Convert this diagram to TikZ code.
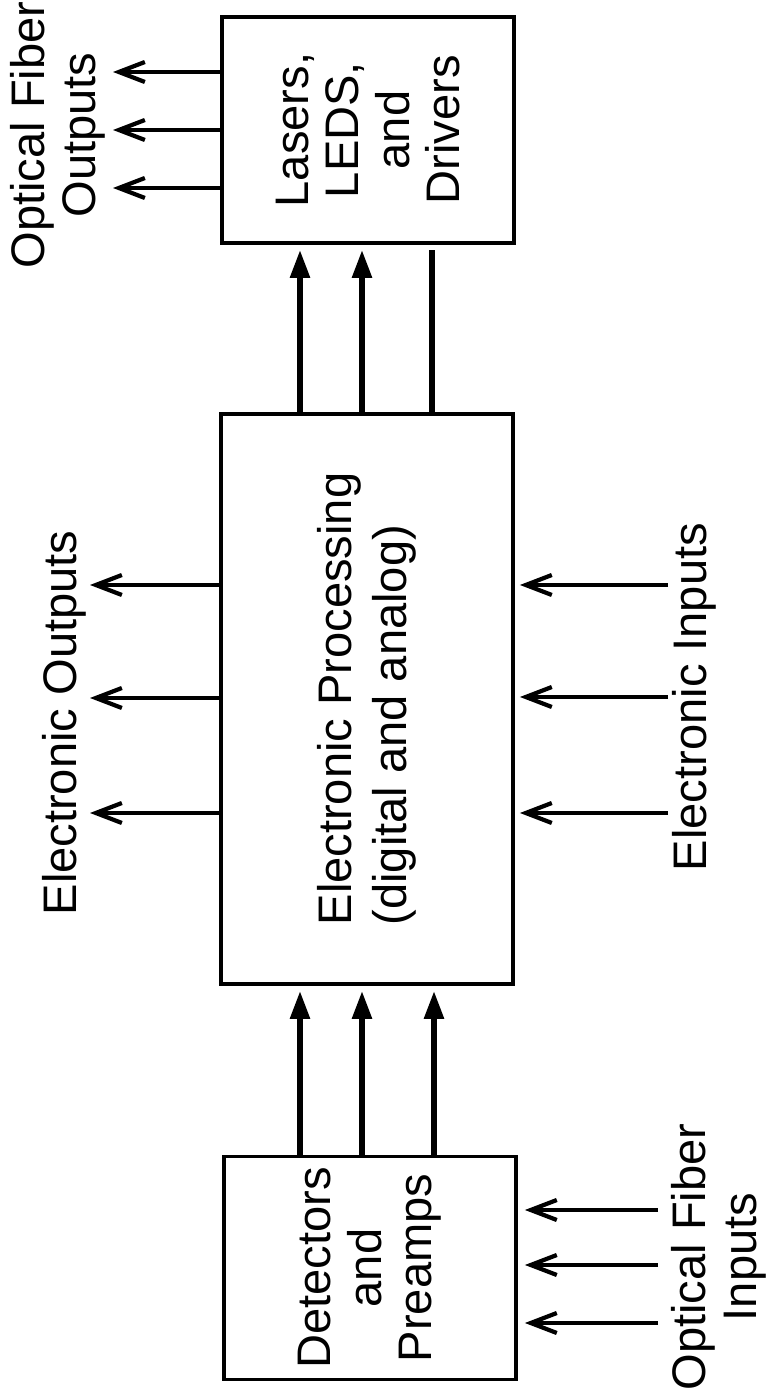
\documentclass[tikz,border=0pt]{standalone}
\usepackage{fontspec}
\setmainfont{Liberation Sans}
\usetikzlibrary{arrows.meta, positioning}

\begin{document}
\begin{tikzpicture}[
  txt/.style  = {rotate=90, align=center, inner sep=0pt,
                 font=\fontsize{13.4}{14.4}\selectfont},
  unit/.style = {txt, draw, line width=1.1pt, minimum height=2.92cm},
  bus/.style  = {-{Triangle[length=2.8mm, width=1.9mm]}, line width=1.6pt, shorten >=0.5mm},
  sig/.style  = {-{Straight Barb[length=2.6mm, width=2.0mm]}, line width=1.2pt}
]
\useasboundingbox (0,0) rectangle (7.69,14);

% the three units, read from bottom to top
\node[unit, minimum width=2.23cm] (det)  at (3.70, 1.32) {Detectors\\and\\Preamps};
\node[unit, minimum width=5.70cm, align=left, font=\fontsize{13.4}{15.8}\selectfont]
                                  (proc) at (3.67, 7.01) {Electronic Processing\\(digital and analog)};
\node[unit, minimum width=2.26cm] (las)  at (3.68,12.70) {Lasers,\\LEDS,\\and\\Drivers};

% side labels
\node[txt] (ofin)  at (7.19, 1.43) {Optical Fiber\\Inputs};
\node[txt] (ein)   at (6.94, 7.03) {Electronic Inputs};
\node[txt] (eout)  at (0.64, 6.77) {Electronic Outputs};
\node[txt] (ofout) at (0.58,12.65) {Optical Fiber\\Outputs};

% free ends of the side arrows
\coordinate (ofin0)  at (6.58,0);
\coordinate (ein0)   at (6.68,0);
\coordinate (eout0)  at (0.90,0);
\coordinate (ofout0) at (1.13,0);

\foreach \y in {0.77,1.35,1.90}
  \draw[sig, shorten >=0.7mm] (ofin0 |- 0,\y) -- (det.south |- 0,\y);
\foreach \y in {5.87,7.03,8.15}
  \draw[sig, shorten >=0.5mm] (ein0 |- 0,\y) -- (proc.south |- 0,\y);
\foreach \y in {5.87,7.02,8.15}
  \draw[sig] (proc.north |- 0,\y) -- (eout0 |- 0,\y);
\foreach \y in {12.12,12.70,13.28}
  \draw[sig] (las.north |- 0,\y) -- (ofout0 |- 0,\y);

% buses between the units
\foreach \x in {3.00,3.62,4.34}
  \draw[bus] (det.east -| \x,0) -- (proc.west -| \x,0);
\foreach \x in {3.00,3.62}
  \draw[bus] (proc.east -| \x,0) -- (las.west -| \x,0);
\draw[bus, -] (proc.east -| 4.32,0) -- (las.west -| 4.32,0);
\end{tikzpicture}
\end{document}
